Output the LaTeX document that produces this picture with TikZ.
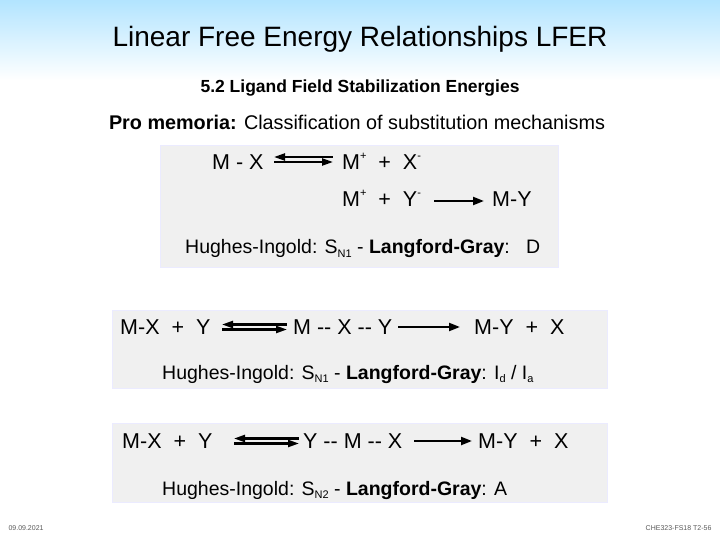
\documentclass[tikz,border=0pt]{standalone}
\usepackage{fontspec}
\setmainfont{Liberation Sans}
\usetikzlibrary{arrows.meta}
\newcommand{\dd}{{-}{-}}
\newcommand{\sbs}[1]{\raisebox{-0.3ex}{\fontsize{11}{12}\selectfont #1}}
\newcommand{\sps}[1]{\raisebox{0.9ex}{\fontsize{11}{12}\selectfont #1}}
\begin{document}
\begin{tikzpicture}[x=1pt,y=-1pt,
  box/.style={fill=gray!12,draw=blue!8,line width=0.8pt},
  txt/.style={anchor=base west,inner sep=0pt,font=\fontsize{21.5}{24}\selectfont},
  lbl/.style={anchor=base west,inner sep=0pt,font=\fontsize{19.5}{22}\selectfont},
  rarr/.style={-{Triangle[length=11pt,width=8pt]},line width=2.2pt},
  eqtop/.style={-{Triangle[length=11pt,width=7pt]},line width=2.2pt},
  eqbot/.style={{Triangle[length=11pt,width=7pt]}-,line width=2.2pt}]
\useasboundingbox (0,0) rectangle (720,540);
\shade[top color=blue!35!cyan!30,bottom color=white] (0,0) rectangle (720,80);
\node[anchor=base,font=\fontsize{28}{32}\selectfont] (title) at (360,47) {Linear Free Energy Relationships LFER};
\node[anchor=base,font=\bfseries\fontsize{17.5}{20}\selectfont] (sub) at (360,93) {5.2 Ligand Field Stabilization Energies};
\node[anchor=base,font=\fontsize{19.8}{22}\selectfont] (pm) at (357,130) {\textbf{Pro memoria:} Classification of substitution mechanisms};
% box 1
\draw[box] (160,145) rectangle (558,267);
\node[txt] (a1) at (212,170) {M - X};
\coordinate (a1r) at (274,159.5); \coordinate (a2l) at (333,159.5);
\draw[eqtop] ([yshift=-2.5pt]a1r) -- ([yshift=-2.5pt]a2l);
\draw[eqbot] ([yshift=2.5pt]a1r) -- ([yshift=2.5pt]a2l);
\node[txt] (a2) at (342,170) {M\sps{+}\ \ +\ \ X\sps{-}};
\node[txt] (b1) at (342,207) {M\sps{+}\ \ +\ \ Y\sps{-}};
\node[txt] (b2) at (492,207) {M-Y};
\coordinate (b1r) at (434,201); \coordinate (b2l) at (484,201);
\draw[rarr] (b1r) -- (b2l);
\node[lbl] (c1) at (185,254) {Hughes-Ingold: S\sbs{N1} - \textbf{Langford-Gray}:\ \ \ D};
% box 2
\draw[box] (112,310) rectangle (607,388);
\node[txt] (d1) at (120,334) {M-X\ \ +\ \ Y};
\node[txt] (d2) at (293,334) {M \dd\ X \dd\ Y};
\node[txt] (d3) at (474,334) {M-Y\ \ +\ \ X};
\coordinate (d1r) at (222,327); \coordinate (d2l) at (287,327);
\draw[eqtop] ([yshift=-2.5pt]d1r) -- ([yshift=-2.5pt]d2l);
\draw[eqbot] ([yshift=2.5pt]d1r) -- ([yshift=2.5pt]d2l);
\coordinate (d2r) at (398,327); \coordinate (d3l) at (460,327);
\draw[rarr] (d2r) -- (d3l);
\node[lbl] (e1) at (162,379) {Hughes-Ingold: S\sbs{N1} - \textbf{Langford-Gray}: I\sbs{d} / I\sbs{a}};
% box 3
\draw[box] (112,423) rectangle (607,502);
\node[txt] (f1) at (122,448) {M-X\ \ +\ \ Y};
\node[txt] (f2) at (303,448) {Y \dd\ M \dd\ X};
\node[txt] (f3) at (478,448) {M-Y\ \ +\ \ X};
\coordinate (f1r) at (234,441); \coordinate (f2l) at (299,441);
\draw[eqtop] ([yshift=-2.5pt]f1r) -- ([yshift=-2.5pt]f2l);
\draw[eqbot] ([yshift=2.5pt]f1r) -- ([yshift=2.5pt]f2l);
\coordinate (f2r) at (414,441); \coordinate (f3l) at (472,441);
\draw[rarr] (f2r) -- (f3l);
\node[lbl] (g1) at (162,495) {Hughes-Ingold: S\sbs{N2} - \textbf{Langford-Gray}: A};
% footer
\node[anchor=base west,font=\fontsize{7}{8}\selectfont,text=gray!70!black] (date) at (5,530) {09.09.2021};
\node[anchor=base east,font=\fontsize{7}{8}\selectfont,text=gray!70!black] (code) at (715,530) {CHE323-FS18 T2-56};
\end{tikzpicture}
\end{document}
